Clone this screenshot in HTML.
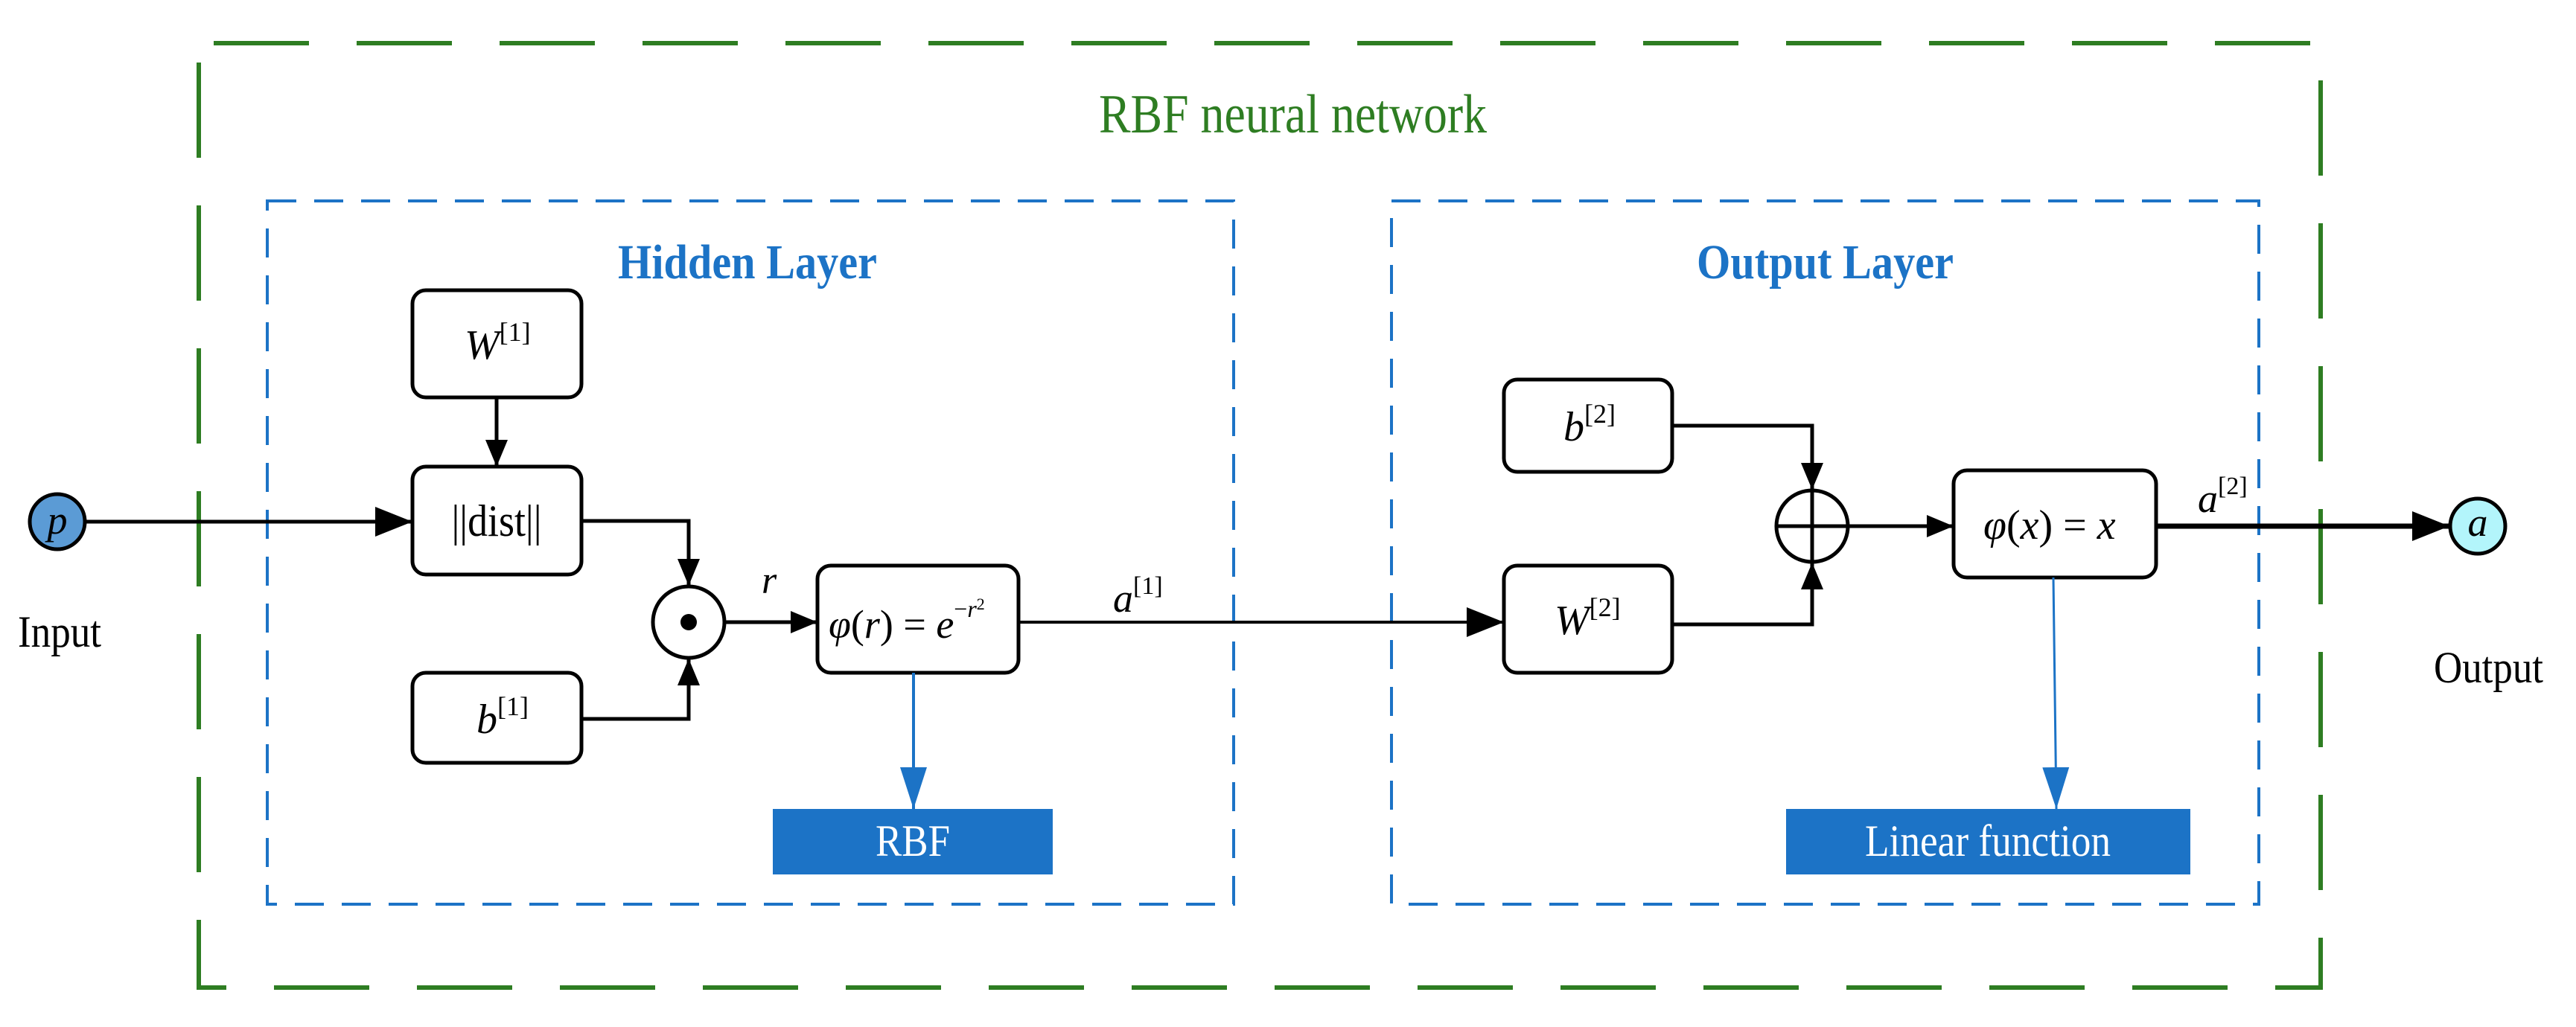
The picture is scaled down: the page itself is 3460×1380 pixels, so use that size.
<!DOCTYPE html>
<html><head><meta charset="utf-8"><style>
html,body{margin:0;padding:0;background:#fff;}
svg{display:block;}
text{font-family:"Liberation Serif","DejaVu Serif",serif;}
</style></head><body>
<svg width="3460" height="1380" viewBox="0 0 3460 1380" xmlns="http://www.w3.org/2000/svg">
<defs>
<marker id="ah" markerWidth="50" markerHeight="40" refX="50" refY="20" orient="auto" markerUnits="userSpaceOnUse"><path d="M0,0 L50,20 L0,40 Z" fill="#000"/></marker>
<marker id="ahs" markerWidth="36" markerHeight="30" refX="36" refY="15" orient="auto" markerUnits="userSpaceOnUse"><path d="M0,0 L36,15 L0,30 Z" fill="#000"/></marker>
<marker id="ahb" markerWidth="56" markerHeight="36" refX="56" refY="18" orient="auto" markerUnits="userSpaceOnUse"><path d="M0,0 L56,18 L0,36 Z" fill="#1c73c6"/></marker>
</defs>

<rect x="267" y="58" width="2850" height="1269" fill="none" stroke="#2e7d22" stroke-width="6" stroke-dasharray="128 64" stroke-dashoffset="-20"/>
<text x="1476" y="178" font-size="74" fill="#2e7d22" textLength="521" lengthAdjust="spacingAndGlyphs">RBF neural network</text>

<rect x="359" y="270" width="1298" height="945" fill="none" stroke="#1c73c6" stroke-width="4" stroke-dasharray="39 24"/>
<rect x="1869" y="270" width="1165" height="945" fill="none" stroke="#1c73c6" stroke-width="4" stroke-dasharray="39 24"/>
<text x="830" y="374" font-size="66" font-weight="bold" fill="#1c73c6" textLength="348" lengthAdjust="spacingAndGlyphs">Hidden Layer</text>
<text x="2279" y="374" font-size="66" font-weight="bold" fill="#1c73c6" textLength="345" lengthAdjust="spacingAndGlyphs">Output Layer</text>

<circle cx="77" cy="701" r="37" fill="#5b9bd5" stroke="#000" stroke-width="5"/>
<text x="77" y="717" font-size="54" font-style="italic" text-anchor="middle">p</text>
<text x="24" y="869" font-size="60" textLength="112" lengthAdjust="spacingAndGlyphs">Input</text>
<circle cx="3328" cy="707" r="37" fill="#b3f5fb" stroke="#000" stroke-width="5"/>
<text x="3328" y="720" font-size="54" font-style="italic" text-anchor="middle">a</text>
<text x="3269" y="917" font-size="60" textLength="147" lengthAdjust="spacingAndGlyphs">Output</text>

<g fill="#fff" stroke="#000" stroke-width="5">
<rect x="554" y="390" width="227" height="144" rx="18"/>
<rect x="554" y="627" width="227" height="145" rx="18"/>
<rect x="554" y="904" width="227" height="121" rx="18"/>
<rect x="1098" y="760" width="270" height="144" rx="18"/>
<rect x="2020" y="510" width="226" height="124" rx="18"/>
<rect x="2020" y="760" width="226" height="144" rx="18"/>
<rect x="2624" y="632" width="272" height="144" rx="18"/>
</g>

<g fill="none" stroke="#000" stroke-width="5">
<line x1="114" y1="701" x2="554" y2="701" marker-end="url(#ah)"/>
<line x1="667" y1="534" x2="667" y2="627" marker-end="url(#ahs)"/>
<polyline points="781,700 925,700 925,787" marker-end="url(#ahs)"/>
<polyline points="781,966 925,966 925,885" marker-end="url(#ahs)"/>
<line x1="974" y1="836" x2="1098" y2="836" marker-end="url(#ahs)"/>
<line x1="1368" y1="836" x2="2020" y2="836" stroke-width="4" marker-end="url(#ah)"/>
<polyline points="2246,572 2434,572 2434,658" marker-end="url(#ahs)"/>
<polyline points="2246,839 2434,839 2434,756" marker-end="url(#ahs)"/>
<line x1="2483" y1="707" x2="2624" y2="707" marker-end="url(#ahs)"/>
<line x1="2896" y1="707" x2="3290" y2="707" stroke-width="7" marker-end="url(#ah)"/>
</g>
<circle cx="925" cy="836" r="48" fill="#fff" stroke="#000" stroke-width="5"/>
<circle cx="925" cy="836" r="11" fill="#000"/>
<circle cx="2434" cy="707" r="48" fill="#fff" stroke="#000" stroke-width="5"/>
<line x1="2386" y1="707" x2="2482" y2="707" stroke="#000" stroke-width="5"/>
<line x1="2434" y1="659" x2="2434" y2="755" stroke="#000" stroke-width="5"/>

<line x1="1227" y1="904" x2="1227" y2="1087" stroke="#1c73c6" stroke-width="4" marker-end="url(#ahb)"/>
<line x1="2758" y1="776" x2="2762" y2="1087" stroke="#1c73c6" stroke-width="3" marker-end="url(#ahb)"/>
<rect x="1038" y="1087" width="376" height="88" fill="#1c73c6"/>
<text x="1226" y="1150" font-size="60" fill="#fff" text-anchor="middle" textLength="100" lengthAdjust="spacingAndGlyphs">RBF</text>
<rect x="2399" y="1087" width="543" height="88" fill="#1c73c6"/>
<text x="2670" y="1150" font-size="60" fill="#fff" text-anchor="middle" textLength="330" lengthAdjust="spacingAndGlyphs">Linear function</text>

<text x="624" y="482" font-size="56" font-style="italic">W<tspan font-style="normal" font-size="36" dy="-24">[1]</tspan></text>
<text x="667" y="720" font-size="60" text-anchor="middle" textLength="121" lengthAdjust="spacingAndGlyphs">||dist||</text>
<text x="640" y="985" font-size="56" font-style="italic">b<tspan font-style="normal" font-size="36" dy="-24">[1]</tspan></text>
<text x="1023" y="797" font-size="52" font-style="italic">r</text>
<text x="1113" y="857" font-size="54"><tspan font-style="italic">φ</tspan>(<tspan font-style="italic">r</tspan>) = <tspan font-style="italic">e</tspan><tspan font-size="32" dy="-28">−<tspan font-style="italic">r</tspan></tspan><tspan font-size="22" dy="-10">2</tspan></text>
<text x="1495" y="822" font-size="54" font-style="italic">a<tspan font-style="normal" font-size="34" dy="-24">[1]</tspan></text>
<text x="2100" y="592" font-size="56" font-style="italic">b<tspan font-style="normal" font-size="36" dy="-24">[2]</tspan></text>
<text x="2088" y="852" font-size="56" font-style="italic">W<tspan font-style="normal" font-size="36" dy="-24">[2]</tspan></text>
<text x="2664" y="724" font-size="56"><tspan font-style="italic">φ</tspan>(<tspan font-style="italic">x</tspan>) = <tspan font-style="italic">x</tspan></text>
<text x="2952" y="688" font-size="54" font-style="italic">a<tspan font-style="normal" font-size="34" dy="-24">[2]</tspan></text>
</svg>
</body></html>
